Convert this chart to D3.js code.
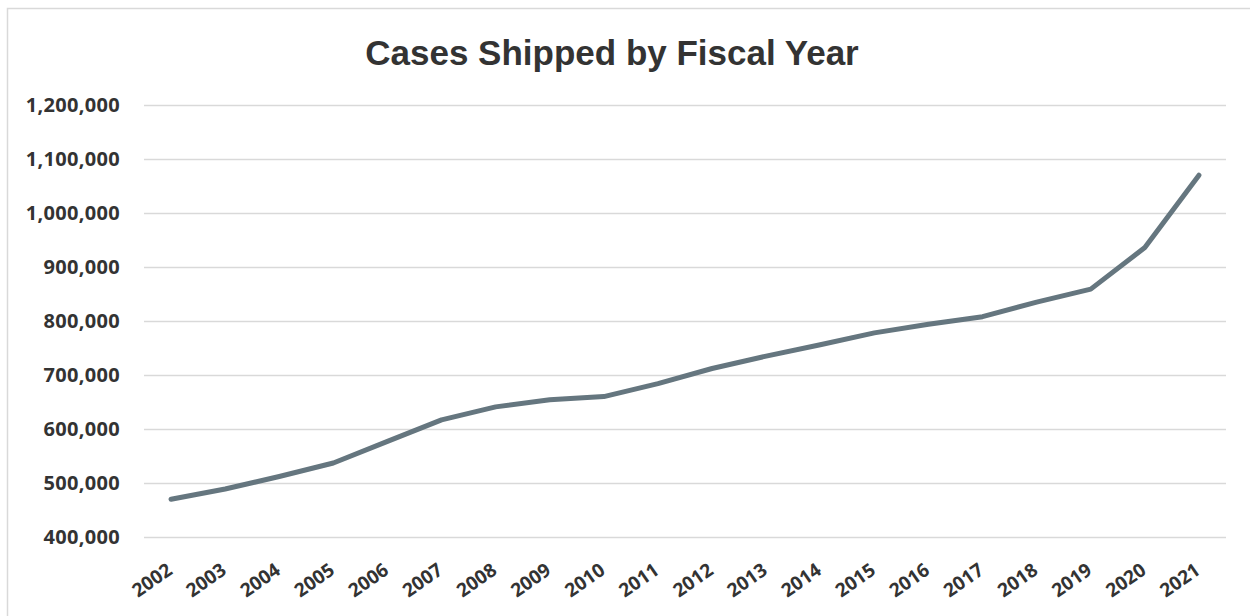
<!DOCTYPE html>
<html>
<head>
<meta charset="utf-8">
<script src="https://cdn.jsdelivr.net/npm/d3@7/dist/d3.min.js"></script>
<style>
  html, body { margin: 0; padding: 0; background: #fff; }
  svg { display: block; }
</style>
</head>
<body>
<svg id="chart" width="1250" height="616"></svg>
<script>
// Fiscal years and cases shipped per year
const years = ["2002","2003","2004","2005","2006","2007","2008","2009","2010","2011",
               "2012","2013","2014","2015","2016","2017","2018","2019","2020","2021"];
const casesShipped = [470000, 489000, 512000, 537000, 577000, 617000, 641000, 654000, 660000, 684000,
                      712000, 735000, 756000, 778000, 794000, 808000, 835000, 859000, 936000, 1070000];
const yTicks = [400000, 500000, 600000, 700000, 800000, 900000, 1000000, 1100000, 1200000];

const svg = d3.select("#chart");
const W = 1250, H = 616;
const margin = { left: 144, right: 24, top: 105, bottom: 79 };
const plotW = W - margin.left - margin.right;
const plotH = H - margin.top - margin.bottom;

// chart frame
svg.append("rect")
  .attr("x", 7.5).attr("y", 8.5)
  .attr("width", 1260).attr("height", 640)
  .attr("fill", "#fff")
  .attr("stroke", "#d9d9d9")
  .attr("stroke-width", 1.5);

const x = d3.scalePoint().domain(years).range([0, plotW]).padding(0.5);
const y = d3.scaleLinear().domain([400000, 1200000]).range([plotH, 0]);

const g = svg.append("g").attr("transform", `translate(${margin.left},${margin.top})`);

// horizontal gridlines with value labels
const yAxis = g.append("g")
  .call(d3.axisLeft(y).tickValues(yTicks).tickSize(-plotW).tickPadding(24)
        .tickFormat(d3.format(",")));
yAxis.select(".domain").remove();
yAxis.selectAll(".tick line").attr("stroke", "#d9d9d9").attr("stroke-width", 1.5);
yAxis.selectAll(".tick text")
  .attr("fill", "#333")
  .style("font-family", "'Open Sans', sans-serif")
  .style("font-weight", "700")
  .style("font-size", "20px")
  .style("letter-spacing", "0.3px");

// rotated year labels
const xAxis = g.append("g")
  .attr("transform", `translate(0,${plotH})`)
  .call(d3.axisBottom(x).tickSize(0).tickPadding(0));
xAxis.select(".domain").remove();
xAxis.selectAll(".tick text")
  .attr("fill", "#333")
  .attr("text-anchor", "end")
  .attr("dy", 0)
  .attr("transform", "translate(2,36) rotate(-35)")
  .style("font-family", "'Open Sans', sans-serif")
  .style("font-weight", "700")
  .style("font-size", "19px");

// series line
const line = d3.line()
  .x((d, i) => x(years[i]))
  .y(d => y(d));
g.append("path")
  .datum(casesShipped)
  .attr("d", line)
  .attr("fill", "none")
  .attr("stroke", "#65767f")
  .attr("stroke-width", 5)
  .attr("stroke-linejoin", "round")
  .attr("stroke-linecap", "round");

// title
svg.append("text")
  .attr("x", 612).attr("y", 65)
  .attr("text-anchor", "middle")
  .attr("fill", "#333")
  .style("font-family", "'Liberation Sans', Arial, sans-serif")
  .style("font-weight", "700")
  .style("font-size", "35px")
  .text("Cases Shipped by Fiscal Year");
</script>
</body>
</html>
